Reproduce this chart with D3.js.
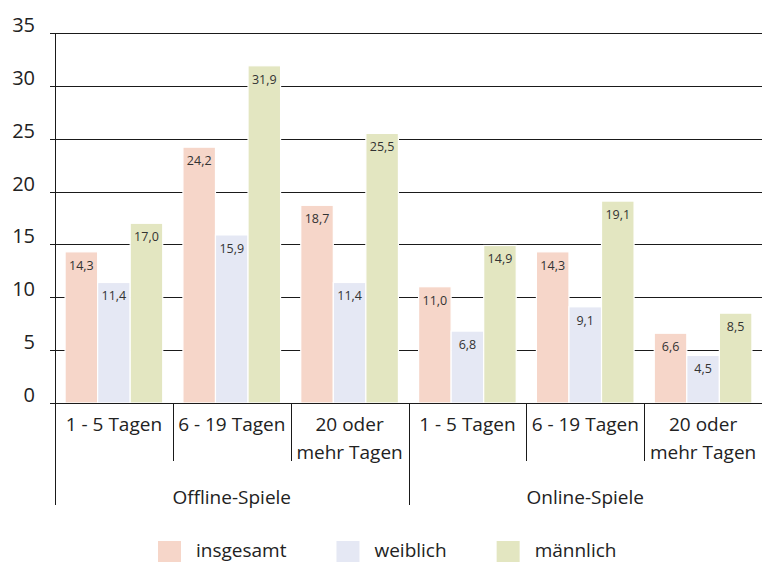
<!DOCTYPE html>
<html>
<head>
<meta charset="utf-8">
<script src="https://cdn.jsdelivr.net/npm/d3@7"></script>
<style>
  html, body { margin: 0; padding: 0; background: #fff; }
  svg { display: block; font-family: "Open Sans", "Noto Sans", sans-serif; font-weight: 400; }
</style>
</head>
<body>
<svg id="chart" width="762" height="562"></svg>
<script>
// data
const gameTypes = ["Offline-Spiele", "Online-Spiele"];
const periods = [["1 - 5 Tagen"], ["6 - 19 Tagen"], ["20 oder", "mehr Tagen"]];
const seriesNames = ["insgesamt", "weiblich", "männlich"];
const insgesamt = [14.3, 24.2, 18.7, 11.0, 14.3, 6.6];
const weiblich  = [11.4, 15.9, 11.4, 6.8, 9.1, 4.5];
const maennlich = [17.0, 31.9, 25.5, 14.9, 19.1, 8.5];
const yTicks = [0, 5, 10, 15, 20, 25, 30, 35];

const colors = {insgesamt: "#f6d6c9", weiblich: "#e5e8f4", "männlich": "#e3e6c1"};

const graphicopt = {
    width: 762, height: 562,
    margin: {top: 33, right: 0, bottom: 159, left: 55},
    widthG: function () { return this.width - this.margin.left - this.margin.right },
    heightG: function () { return this.height - this.margin.top - this.margin.bottom },
};

// flatten to one row per bar group
const cats = [];
gameTypes.forEach((g, gi) => periods.forEach((p, pi) => cats.push({key: g + "|" + pi, game: g, label: p, idx: gi * periods.length + pi})));
const rows = cats.map((c, i) => ({cat: c, values: [insgesamt[i], weiblich[i], maennlich[i]]}));

const locale = d3.formatLocale({decimal: ",", thousands: ".", grouping: [3], currency: ["", "€"]});
const fmt = locale.format(".1f");

const svg = d3.select("#chart");
const g = svg.append("g").attr("transform", `translate(${graphicopt.margin.left},${graphicopt.margin.top})`);

const x0 = d3.scaleBand().domain(cats.map(d => d.key)).range([0, graphicopt.widthG()]).padding(0);
const x1 = d3.scaleBand().domain(seriesNames).range([0, x0.bandwidth()]).paddingInner(0).paddingOuter(0.31);
const y = d3.scaleLinear().domain([0, 35]).range([graphicopt.heightG(), 0]);

// gridlines + ticks
g.append("g").attr("class", "grid")
    .selectAll("line").data(yTicks)
    .join("line")
    .attr("x1", -5).attr("x2", graphicopt.widthG())
    .attr("y1", d => Math.round(y(d)) + 0.5).attr("y2", d => Math.round(y(d)) + 0.5)
    .attr("stroke", "#1a1a1a").attr("stroke-width", 1);

g.append("g").attr("class", "ylabels")
    .selectAll("text").data(yTicks)
    .join("text")
    .attr("x", -20).attr("y", d => y(d) - 1)
    .attr("text-anchor", "end")
    .attr("font-size", 20).attr("fill", "#222")
    .text(d => d);

// bars
const items = g.append("g").attr("class", "drawArea")
    .selectAll("g.item").data(rows)
    .join("g").attr("class", "item")
    .attr("transform", d => `translate(${x0(d.cat.key)},0)`);

items.selectAll("rect")
    .data(d => d.values.map((v, i) => ({name: seriesNames[i], v})))
    .join("rect")
    .attr("x", d => x1(d.name)).attr("width", x1.bandwidth())
    .attr("y", d => y(d.v)).attr("height", d => y(0) - y(d.v))
    .attr("fill", d => colors[d.name])
    .attr("stroke", "#fff").attr("stroke-width", 1.2);

items.selectAll("text.val")
    .data(d => d.values.map((v, i) => ({name: seriesNames[i], v})))
    .join("text").attr("class", "val")
    .attr("x", d => x1(d.name) + x1.bandwidth() / 2)
    .attr("y", d => y(d.v) + 18)
    .attr("text-anchor", "middle")
    .attr("font-size", 12.5).attr("fill", "#333")
    .text(d => fmt(d.v));

// axis lines (zero line drawn over bars)
g.append("line")
    .attr("x1", 0.5).attr("x2", 0.5).attr("y1", y(35)).attr("y2", graphicopt.heightG() + 102)
    .attr("stroke", "#1a1a1a");
g.append("line")
    .attr("x1", -5).attr("x2", graphicopt.widthG())
    .attr("y1", Math.round(y(0)) + 0.5).attr("y2", Math.round(y(0)) + 0.5)
    .attr("stroke", "#1a1a1a");

// category separators
const xAxis = g.append("g").attr("class", "xcats").attr("transform", `translate(0,${y(0)})`);
xAxis.selectAll("line.sep").data(cats.filter(d => d.idx > 0))
    .join("line").attr("class", "sep")
    .attr("x1", d => Math.round(x0(d.key)) + 0.5).attr("x2", d => Math.round(x0(d.key)) + 0.5)
    .attr("y1", 0).attr("y2", d => d.idx % periods.length === 0 ? 102 : 58)
    .attr("stroke", "#1a1a1a");

xAxis.selectAll("text.cat").data(cats)
    .join("text").attr("class", "cat")
    .attr("x", d => x0(d.key) + x0.bandwidth() / 2)
    .attr("y", 28)
    .attr("text-anchor", "middle")
    .attr("font-size", 19).attr("fill", "#222")
    .selectAll("tspan").data(d => d.label)
    .join("tspan")
    .attr("x", function () { return d3.select(this.parentNode).attr("x") })
    .attr("dy", (d, i) => i === 0 ? 0 : 28)
    .text(d => d);

xAxis.selectAll("text.game").data(gameTypes)
    .join("text").attr("class", "game")
    .attr("x", (d, i) => {
        const first = cats.find(c => c.game === d), last = cats.filter(c => c.game === d).pop();
        return (x0(first.key) + x0(last.key) + x0.bandwidth()) / 2;
    })
    .attr("y", 101)
    .attr("text-anchor", "middle")
    .attr("font-size", 19).attr("fill", "#222")
    .text(d => d);

// legend
const legend = svg.append("g").attr("class", "legend").attr("transform", "translate(158,541)");
let lx = 0;
seriesNames.forEach(name => {
    const it = legend.append("g").attr("transform", `translate(${lx},0)`);
    it.append("rect").attr("width", 23).attr("height", 23).attr("fill", colors[name]);
    const t = it.append("text").attr("x", 38).attr("y", 16)
        .attr("font-size", 19).attr("fill", "#222").text(name);
    lx += 38 + t.node().getComputedTextLength() + 50;
});
</script>
</body>
</html>
